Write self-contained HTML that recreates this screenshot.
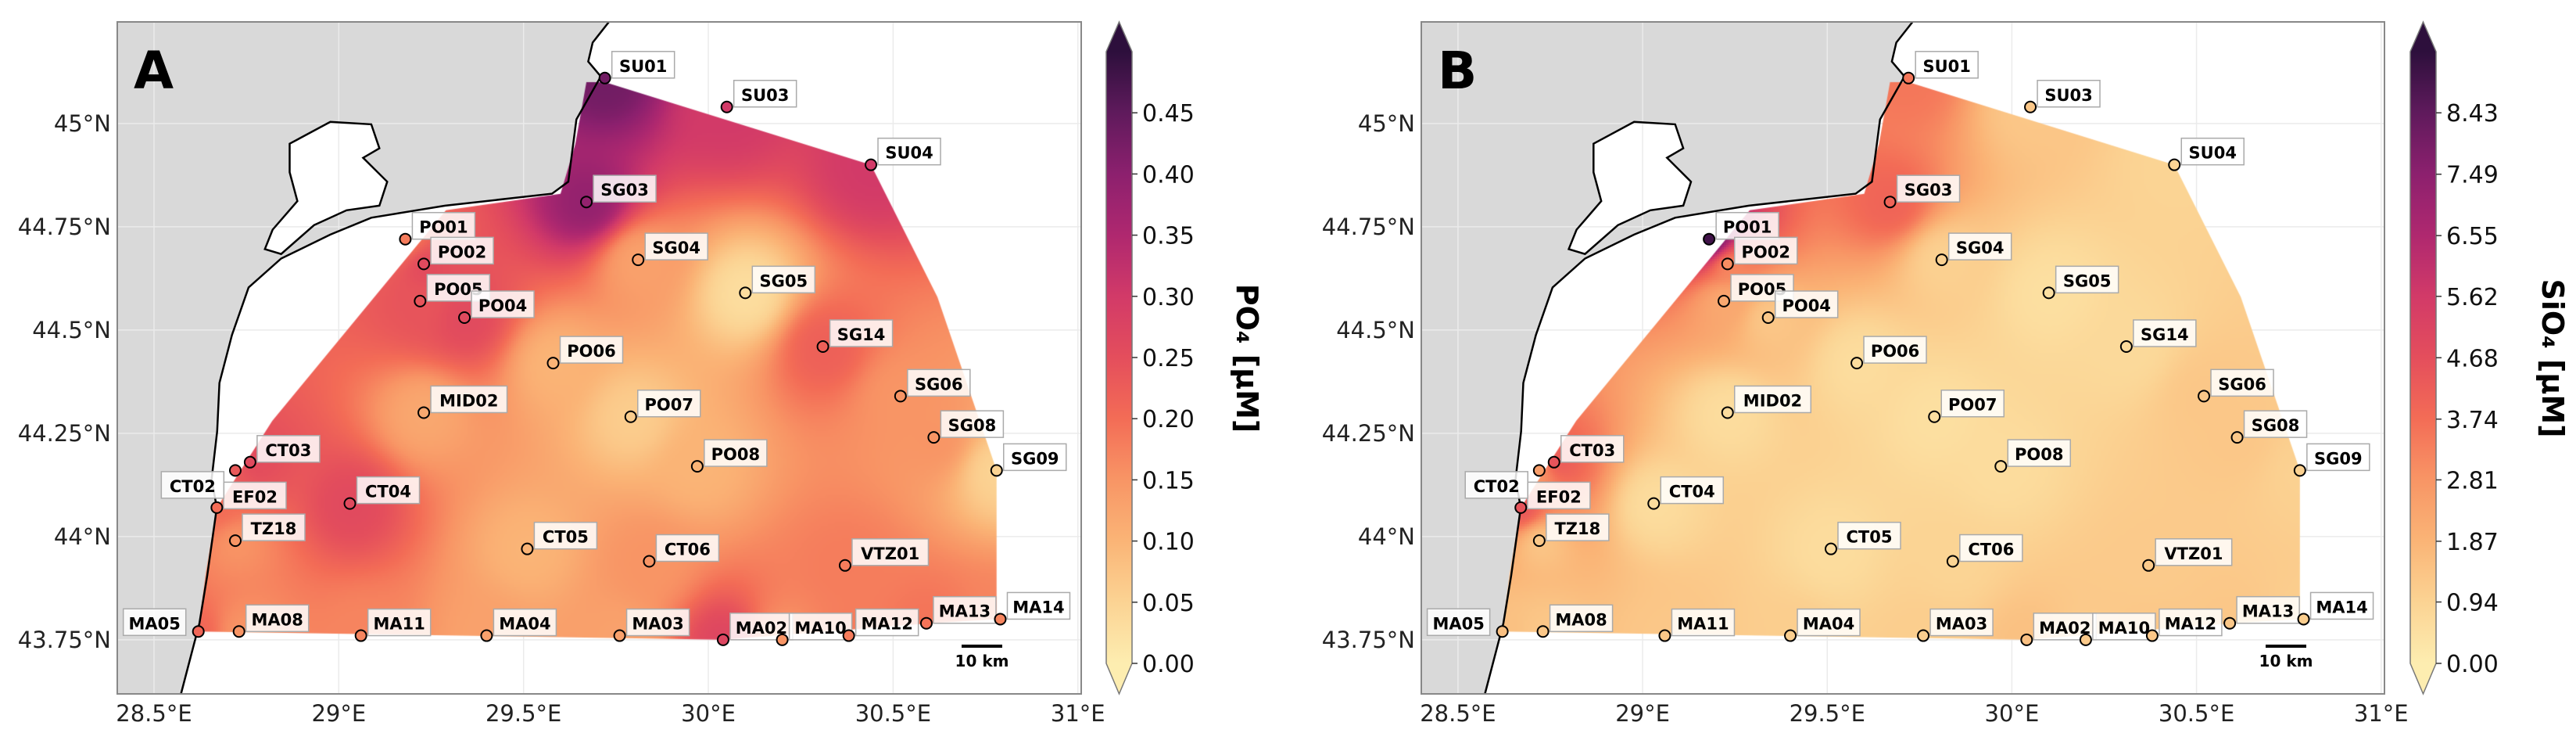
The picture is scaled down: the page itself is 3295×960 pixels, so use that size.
<!DOCTYPE html>
<html><head><meta charset="utf-8">
<style>
html,body{margin:0;padding:0;background:#fff;}
#wrap{position:relative;width:3295px;height:960px;overflow:hidden;}
svg,canvas{position:absolute;left:0;top:0;}
text{font-family:"DejaVu Sans","Liberation Sans",sans-serif;}
</style></head>
<body>
<div id="wrap">
<svg id="under" width="3295" height="960"></svg>
<canvas id="field" width="3295" height="960"></canvas>
<svg id="over" width="3295" height="960"></svg>
</div>
<script>
const stations=['SU01','SU03','SU04','SG03','PO01','PO02','PO05','PO04','SG04','SG05','SG14','PO06','MID02','PO07','SG06','SG08','SG09','PO08','CT03','EF02','CT02','CT04','TZ18','CT05','CT06','VTZ01','MA05','MA08','MA11','MA04','MA03','MA02','MA10','MA12','MA13','MA14'];
const lons=[29.72,30.05,30.44,29.67,29.18,29.23,29.22,29.34,29.81,30.10,30.31,29.58,29.23,29.79,30.52,30.61,30.78,29.97,28.76,28.72,28.67,29.03,28.72,29.51,29.84,30.37,28.62,28.73,29.06,29.40,29.76,30.04,30.20,30.38,30.59,30.79];
const lats=[45.11,45.04,44.90,44.81,44.72,44.66,44.57,44.53,44.67,44.59,44.46,44.42,44.30,44.29,44.34,44.24,44.16,44.17,44.18,44.16,44.07,44.08,43.99,43.97,43.94,43.93,43.77,43.77,43.76,43.76,43.76,43.75,43.75,43.76,43.79,43.80];
const po4=[0.43,0.30,0.30,0.39,0.18,0.26,0.24,0.26,0.13,0.03,0.22,0.10,0.12,0.06,0.15,0.15,0.05,0.10,0.26,0.23,0.20,0.26,0.15,0.10,0.15,0.18,0.21,0.15,0.17,0.13,0.13,0.27,0.15,0.18,0.19,0.17];
const sio4=[3.5,1.3,0.9,4.0,9.0,3.0,2.2,1.3,1.0,0.5,0.7,0.6,0.6,0.5,1.3,1.3,1.0,0.6,4.5,2.5,4.5,0.6,1.3,0.6,0.9,1.2,1.5,1.3,1.3,1.1,1.1,1.5,1.2,1.3,1.3,1.1];
const lonTicks=[28.5,29,29.5,30,30.5,31];
const lonTickLabels=['28.5°E','29°E','29.5°E','30°E','30.5°E','31°E'];
const latTicks=[43.75,44,44.25,44.5,44.75,45];
const latTickLabels=['43.75°N','44°N','44.25°N','44.5°N','44.75°N','45°N'];
const po4Ticks=[0,0.05,0.10,0.15,0.20,0.25,0.30,0.35,0.40,0.45];
const po4TickLabels=['0.00','0.05','0.10','0.15','0.20','0.25','0.30','0.35','0.40','0.45'];
const sioTicks=[0,0.94,1.87,2.81,3.74,4.68,5.62,6.55,7.49,8.43];
const sioTickLabels=['0.00','0.94','1.87','2.81','3.74','4.68','5.62','6.55','7.49','8.43'];
const domainLon=[29.72,30.44,30.62,30.78,30.78,30.60,30.04,28.62,28.64,28.67,28.82,29.29,29.60,29.64,29.67];
const domainLat=[45.10,44.90,44.58,44.16,43.80,43.79,43.75,43.77,43.91,44.07,44.28,44.79,44.83,44.95,45.10];
const landLon=[28.40,29.731,29.687,29.675,29.709,29.643,29.621,29.577,29.288,29.088,28.977,28.844,28.756,28.711,28.677,28.671,28.656,28.67,28.644,28.623,28.573,28.40];
const landLat=[45.246,45.246,45.196,45.150,45.114,45.010,44.859,44.830,44.801,44.772,44.731,44.673,44.603,44.488,44.372,44.255,44.139,44.07,43.906,43.790,43.619,43.619];
const lakeLon=[28.867,28.977,29.088,29.110,29.066,29.131,29.110,29.021,28.933,28.844,28.800,28.821,28.888,28.867];
const lakeLat=[44.951,45.004,44.998,44.940,44.917,44.859,44.801,44.790,44.754,44.684,44.696,44.743,44.812,44.882];

const LON0=28.4006,LON1=31.009,LAT0=43.619,LAT1=45.246;
const panels=[
 {id:'a',letter:'A',x0:150,y0:28,w:1233,h:859,cbx:1415,vals:po4,vmax:0.5,ticks:po4Ticks,tl:po4TickLabels,lab:'PO',labx:1582},
 {id:'b',letter:'B',x0:1818,y0:28,w:1232,h:859,cbx:3083,vals:sio4,vmax:9.367,ticks:sioTicks,tl:sioTickLabels,lab:'SiO',labx:3252}
];
const stops=[[0,[253,237,176]],[0.1,[251,211,147]],[0.2,[250,180,118]],[0.3,[248,149,101]],[0.4,[243,108,86]],[0.5,[228,78,92]],[0.6,[210,58,104]],[0.7,[175,40,111]],[0.8,[140,32,110]],[0.9,[95,26,92]],[1,[45,15,60]]];
function cmap(t){t=Math.max(0,Math.min(1,t));for(let i=1;i<stops.length;i++){if(t<=stops[i][0]){const a=stops[i-1],b=stops[i];const f=(t-a[0])/(b[0]-a[0]);return a[1].map((v,k)=>Math.round(v+(b[1][k]-v)*f));}}return stops[stops.length-1][1];}
function rgb(c){return 'rgb('+c.join(',')+')';}
const NS='http://www.w3.org/2000/svg';
function el(parent,tag,attrs){const e=document.createElementNS(NS,tag);for(const k in attrs)e.setAttribute(k,attrs[k]);parent.appendChild(e);return e;}
const under=document.getElementById('under'),over=document.getElementById('over');
const ctx=document.getElementById('field').getContext('2d');
const defs=el(over,'defs',{});
panels.forEach(P=>{
 const X=lon=>P.x0+(lon-LON0)/(LON1-LON0)*P.w;
 const Y=lat=>P.y0+(LAT1-lat)/(LAT1-LAT0)*P.h;
 const g=el(under,'g',{});
 
 
 el(g,'rect',{x:P.x0,y:P.y0,width:P.w,height:P.h,fill:'#fff'});
 const pts=(lo,la)=>lo.map((v,i)=>X(v).toFixed(1)+','+Y(la[i]).toFixed(1)).join(' ');
 const land=el(g,'polygon',{points:pts(landLon,landLat),fill:'#d9d9d9'});
 
 
 el(g,'polygon',{points:pts(lakeLon,lakeLat),fill:'#fff'});
 lonTicks.forEach(v=>el(g,'line',{x1:X(v),x2:X(v),y1:P.y0,y2:P.y0+P.h,stroke:'#ebebeb','stroke-width':1.5}));
 latTicks.forEach(v=>el(g,'line',{x1:P.x0,x2:P.x0+P.w,y1:Y(v),y2:Y(v),stroke:'#ebebeb','stroke-width':1.5}));
 ctx.save();ctx.beginPath();
 domainLon.forEach((v,i)=>{const x=X(v),y=Y(domainLat[i]);i?ctx.lineTo(x,y):ctx.moveTo(x,y);});
 ctx.closePath();ctx.clip();
 const sx=lons.map(X),sy=lats.map(Y);const st=3;
 for(let y=P.y0;y<P.y0+P.h;y+=st){for(let x=P.x0;x<P.x0+P.w;x+=st){
   let sw=0,sv=0;
   for(let i=0;i<sx.length;i++){const dx=x-sx[i],dy=y-sy[i];const d2=dx*dx+dy*dy+300;const w=1/Math.pow(d2,1.6);sw+=w;sv+=w*P.vals[i];}
   ctx.fillStyle=rgb(cmap(sv/sw/P.vmax));ctx.fillRect(x,y,st,st);}}
 ctx.restore();
 const o=el(over,'g',{});
 
 
 const coast=el(o,'polyline',{points:pts(landLon.slice(1,-1),landLat.slice(1,-1)),fill:'none',stroke:'#000','stroke-width':2.5});
 
 
 el(o,'polygon',{points:pts(lakeLon,lakeLat),fill:'none',stroke:'#000','stroke-width':2.5});
 const fr=el(o,'rect',{x:P.x0,y:P.y0,width:P.w,height:P.h,fill:'none',stroke:'#888','stroke-width':2});
 
 
 const pl=el(o,'text',{x:P.x0+21,y:113,'font-size':66,'font-weight':'bold'});pl.textContent=P.letter;
 
 
 lonTicks.forEach((v,i)=>{const t=el(o,'text',{x:X(v),y:922,'font-size':29,'text-anchor':'middle',fill:'#222'});t.textContent=lonTickLabels[i];
   
   });
 latTicks.forEach((v,i)=>{const t=el(o,'text',{x:P.x0-8,y:Y(v)+10,'font-size':29,'text-anchor':'end',fill:'#222'});t.textContent=latTickLabels[i];
   
   });
 stations.forEach((s,i)=>{
   const mx=sx[i],my=sy[i];
   const sg=el(o,'g',{});
   
   
   el(sg,'circle',{cx:mx,cy:my,r:7,fill:rgb(cmap(P.vals[i]/P.vmax)),stroke:'#000','stroke-width':2});
   const bw=s.length*17.5+10,bh=34;
   let bx=mx+9,by=my-34;
   if(s==='MA05'){bx=mx-16-bw;by=my-29;}
   if(s==='CT02'){bx=mx+9-bw;by=my-46;}
   if(s==='EF02'){bx=mx-15;by=my+15;}
   el(sg,'rect',{x:bx,y:by,width:bw,height:bh,fill:'#fff','fill-opacity':0.85,stroke:'#aaa','stroke-width':1.5});
   const t=el(sg,'text',{x:bx+bw/2,y:by+26,'font-size':21,'font-weight':'bold','text-anchor':'middle'});t.textContent=s;
 });
 const sb=el(o,'g',{});
 
 
 el(sb,'rect',{x:P.x0+1080,y:824,width:52,height:4,fill:'#000'});
 const st2=el(sb,'text',{x:P.x0+1106,y:852,'font-size':20,'font-weight':'bold','text-anchor':'middle'});st2.textContent='10 km';
 const cb=el(o,'g',{});
 
 
 const gr=el(defs,'linearGradient',{id:'grad'+P.id,x1:0,y1:1,x2:0,y2:0});
 for(let k=0;k<=20;k++)el(gr,'stop',{offset:k/20,'stop-color':rgb(cmap(k/20))});
 const cy0=848,cy1=66,cw=33,cx=P.cbx;
 el(cb,'rect',{x:cx,y:cy1,width:cw,height:cy0-cy1,fill:'url(#grad'+P.id+')'});
 el(cb,'polygon',{points:`${cx},${cy1} ${cx+cw/2},28 ${cx+cw},${cy1}`,fill:rgb(cmap(1))});
 el(cb,'polygon',{points:`${cx},${cy0} ${cx+cw/2},887 ${cx+cw},${cy0}`,fill:rgb(cmap(0))});
 el(cb,'polygon',{points:`${cx},${cy0} ${cx},${cy1} ${cx+cw/2},28 ${cx+cw},${cy1} ${cx+cw},${cy0} ${cx+cw/2},887`,fill:'none',stroke:'#777','stroke-width':1.5});
 const CY=v=>cy0-(v/P.vmax)*(cy0-cy1);
 P.ticks.forEach((v,i)=>{el(cb,'line',{x1:cx+cw,x2:cx+cw+7,y1:CY(v),y2:CY(v),stroke:'#333','stroke-width':1.5});
   const t=el(cb,'text',{x:cx+cw+13,y:CY(v)+11,'font-size':30,fill:'#111'});t.textContent=P.tl[i];
   
   });
 const lt=el(cb,'text',{x:P.labx,y:458,'font-size':38,'font-weight':'bold','text-anchor':'middle',transform:`rotate(90 ${P.labx} 458)`});
 lt.textContent=P.lab+'₄ [µM]';
 
 
});
</script>
</body></html>
